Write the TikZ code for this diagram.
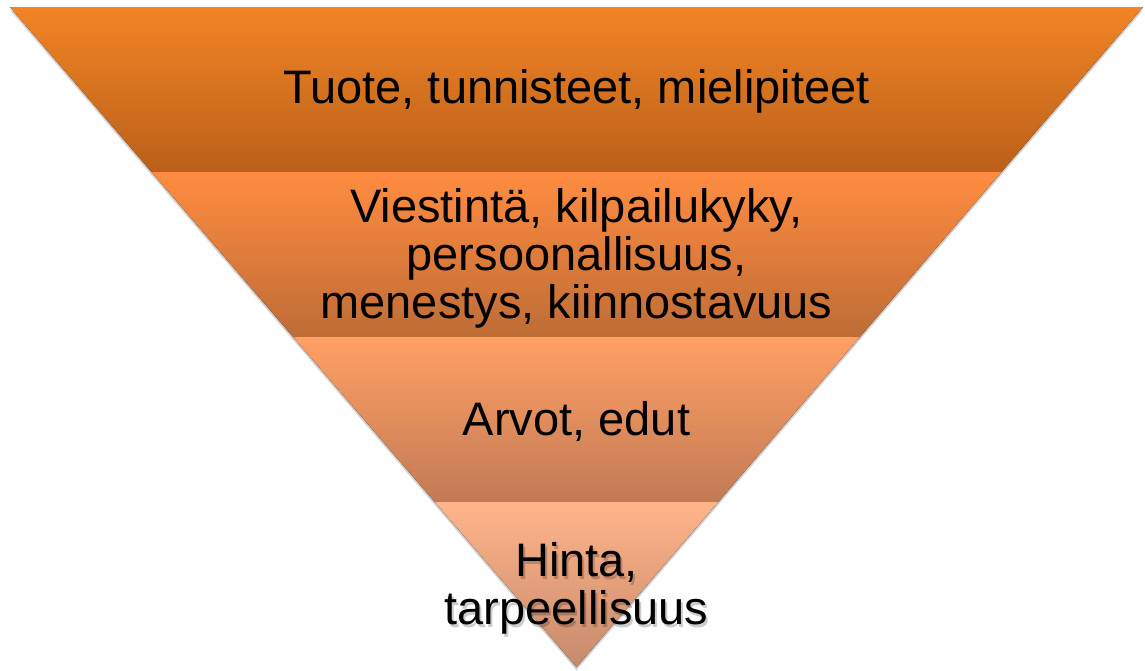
\documentclass[tikz,border=0pt]{standalone}
\usepackage{fontspec}
\setmainfont{Liberation Sans}
\usetikzlibrary{calc}
\definecolor{aTop}{HTML}{F28425}
\definecolor{aBot}{HTML}{BA6019}
\definecolor{bTop}{HTML}{FF8C40}
\definecolor{bBot}{HTML}{BE6C36}
\definecolor{cTop}{HTML}{FFA064}
\definecolor{cBot}{HTML}{C27A55}
\definecolor{dTop}{HTML}{FFB58A}
\definecolor{dBot}{HTML}{C68A6C}
\tikzset{
  bandtext/.style={align=center, text=black, font=\fontsize{47}{48}\selectfont, inner sep=0pt},
  shadowtext/.style={bandtext, text=black, opacity=0.2},
}
\begin{document}
\begin{tikzpicture}[x=1pt,y=-1pt]
\useasboundingbox (0,0) rectangle (1145,670);
\coordinate (L) at (10,7);
\coordinate (R) at (1143,7);
\coordinate (A) at (576.5,667);
\coordinate (L1) at ($(L)!0.25!(A)$);
\coordinate (R1) at ($(R)!0.25!(A)$);
\coordinate (L2) at ($(L)!0.5!(A)$);
\coordinate (R2) at ($(R)!0.5!(A)$);
\coordinate (L3) at ($(L)!0.75!(A)$);
\coordinate (R3) at ($(R)!0.75!(A)$);
% drop shadow of the triangle
\fill[black, opacity=0.12] ([yshift=-3.5]L) -- ([yshift=-3.5]R) -- ([yshift=-3.5]A) -- cycle;
\fill[black, opacity=0.10] ([yshift=-2]L) -- ([yshift=-2]R) -- ([yshift=-2]A) -- cycle;
% bands
\fill[top color=aTop, bottom color=aBot] (L) -- (R) -- (R1) -- (L1) -- cycle;
\fill[top color=bTop, bottom color=bBot] (L1) -- (R1) -- (R2) -- (L2) -- cycle;
\fill[top color=cTop, bottom color=cBot] (L2) -- (R2) -- (R3) -- (L3) -- cycle;
\fill[top color=dTop, bottom color=dBot] (L3) -- (R3) -- (A) -- cycle;
% texts
\coordinate (c1) at (576.5,91);
\coordinate (c2) at (576.5,258);
\coordinate (c3) at (576.5,421);
\coordinate (c4) at (576.5,588);
\node[shadowtext] (s4) at ([xshift=2, yshift=-3]c4) {Hinta,\\tarpeellisuus};
\node[bandtext] (t1) at (c1) {Tuote, tunnisteet, mielipiteet};
\node[bandtext] (t2) at (c2) {Viestintä, kilpailukyky,\\persoonallisuus,\\menestys, kiinnostavuus};
\node[bandtext] (t3) at (c3) {Arvot, edut};
\node[bandtext] (t4) at (c4) {Hinta,\\tarpeellisuus};
\end{tikzpicture}
\end{document}
